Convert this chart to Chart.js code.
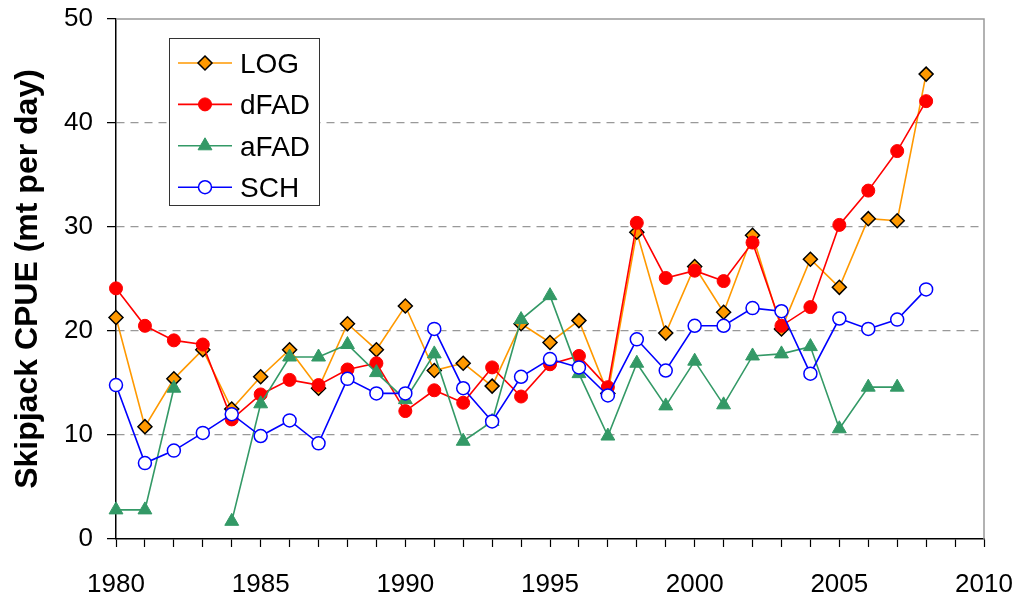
<!DOCTYPE html>
<html>
<head>
<meta charset="utf-8">
<script src="https://cdn.jsdelivr.net/npm/chart.js@4/dist/chart.umd.min.js"></script>
<style>
html,body{margin:0;padding:0;background:#fff;}
#wrap{width:1021px;height:597px;position:relative;}
</style>
</head>
<body>
<div id="wrap"><canvas id="c" width="1021" height="597"></canvas></div>
<script>
const years = [1980,1981,1982,1983,1984,1985,1986,1987,1988,1989,1990,1991,1992,1993,1994,1995,1996,1997,1998,1999,2000,2001,2002,2003,2004,2005,2006,2007,2008,2009,2010];
const seriesNames = ['LOG','dFAD','aFAD','SCH'];
const logValues  = [21.3,10.8,15.4,18.2,12.5,15.6,18.2,14.5,20.7,18.2,22.4,16.2,16.9,14.7,20.7,18.9,21.0,14.0,29.5,19.8,26.2,21.8,29.2,20.2,26.9,24.2,30.8,30.6,44.7];
const dfadValues = [24.1,20.5,19.1,18.7,11.5,13.9,15.3,14.8,16.3,16.9,12.3,14.3,13.1,16.5,13.7,16.8,17.6,14.6,30.4,25.1,25.8,24.8,28.5,20.5,22.3,30.2,33.5,37.3,42.1];
const afadValues = [2.8,2.8,14.5,null,1.7,13.0,17.5,17.5,18.7,16.0,13.4,17.8,9.4,11.3,21.1,23.4,15.9,9.9,16.9,12.8,17.1,12.9,17.6,17.8,18.5,10.6,14.6,14.6,null];
const schValues  = [14.8,7.3,8.5,10.2,12.0,9.9,11.4,9.2,15.4,14.0,14.0,20.2,14.5,11.3,15.6,17.3,16.5,13.8,19.2,16.2,20.5,20.5,22.2,21.9,15.9,21.2,20.2,21.1,24.0];
const yTicks = [0,10,20,30,40,50];

const FONT = "'Liberation Sans', Arial, sans-serif";

const styles = [
  {color:'#FF9900', pointStyle:'rectRot', radius:7, fill:'#FF9900', border:'#000', bw:1.5, order:4},
  {color:'#FF0000', pointStyle:'circle', radius:6.5, fill:'#FF0000', border:'#FF0000', bw:1, order:3},
  {color:'#339966', pointStyle:'triangle', radius:8, fill:'#339966', border:'#339966', bw:1, order:2},
  {color:'#0000FF', pointStyle:'circle', radius:6.5, fill:'#FFFFFF', border:'#0000FF', bw:1.5, order:1}
];
const allValues = [logValues, dfadValues, afadValues, schValues];

const datasets = seriesNames.map((name,i)=>({
  label:name,
  data:allValues[i],
  borderColor:styles[i].color,
  backgroundColor:styles[i].fill,
  borderWidth:1.6,
  pointStyle:styles[i].pointStyle,
  pointRadius:styles[i].radius,
  pointHoverRadius:styles[i].radius,
  pointBackgroundColor:styles[i].fill,
  pointBorderColor:styles[i].border,
  pointBorderWidth:styles[i].bw,
  tension:0,
  spanGaps:false,
  order:styles[i].order
}));

function drawMarker(ctx, st, x, y){
  ctx.save();
  ctx.fillStyle = st.fill;
  ctx.strokeStyle = st.border;
  ctx.lineWidth = st.bw;
  ctx.beginPath();
  const r = st.radius;
  if(st.pointStyle==='rectRot'){
    ctx.moveTo(x, y-r); ctx.lineTo(x+r, y); ctx.lineTo(x, y+r); ctx.lineTo(x-r, y); ctx.closePath();
  } else if(st.pointStyle==='triangle'){
    ctx.moveTo(x, y-r);
    ctx.lineTo(x + r*Math.cos(Math.PI/6), y + r/2);
    ctx.lineTo(x - r*Math.cos(Math.PI/6), y + r/2);
    ctx.closePath();
  } else {
    ctx.arc(x, y, r, 0, Math.PI*2);
  }
  ctx.fill();
  ctx.stroke();
  ctx.restore();
}

const framePlugin = {
  id:'frame',
  beforeDatasetsDraw(chart){
    const {ctx, chartArea:a} = chart;
    ctx.save();
    ctx.strokeStyle = '#999';
    ctx.lineWidth = 1.5;
    ctx.beginPath();
    ctx.moveTo(a.left, a.top); ctx.lineTo(a.right, a.top); ctx.lineTo(a.right, a.bottom);
    ctx.stroke();
    ctx.restore();
  }
};

const legendPlugin = {
  id:'boxLegend',
  afterDraw(chart){
    const ctx = chart.ctx;
    const bx = 169, by = 38, bw = 150, bh = 167;
    ctx.save();
    ctx.fillStyle = '#fff';
    ctx.fillRect(bx, by, bw, bh);
    ctx.strokeStyle = '#333';
    ctx.lineWidth = 1;
    ctx.strokeRect(bx+0.5, by+0.5, bw, bh);
    ctx.font = '28px ' + FONT;
    ctx.textBaseline = 'alphabetic';
    ctx.textAlign = 'left';
    chart.data.datasets.forEach((ds,i)=>{
      const y = 63 + i*41.4;
      ctx.strokeStyle = styles[i].color;
      ctx.lineWidth = 1.6;
      ctx.beginPath(); ctx.moveTo(178, y); ctx.lineTo(232, y); ctx.stroke();
      drawMarker(ctx, styles[i], 205, y);
      ctx.fillStyle = '#000';
      ctx.fillText(ds.label, 240, y + 10);
    });
    ctx.restore();
  }
};

new Chart(document.getElementById('c'), {
  type:'line',
  data:{labels:years, datasets:datasets},
  options:{
    responsive:false,
    animation:false,
    devicePixelRatio:1,
    layout:{padding:{left:0, right:37, top:19, bottom:0}},
    plugins:{legend:{display:false}, tooltip:{enabled:false}},
    scales:{
      x:{
        type:'category',
        offset:false,
        grid:{display:true, drawOnChartArea:false, drawTicks:true, tickLength:8, tickColor:'#000', tickWidth:1.2},
        border:{display:true, color:'#000', width:1.5},
        ticks:{
          autoSkip:false, maxRotation:0, minRotation:0, padding:22,
          color:'#000', font:{family:FONT, size:26},
          callback:function(v,i){ return years[i]%5===0 ? String(years[i]) : ''; }
        },
        afterFit:function(s){ s.height = 58; s.paddingLeft = 0; s.paddingRight = 0; }
      },
      y:{
        min:0, max:50,
        afterBuildTicks:function(s){ s.ticks = yTicks.map(v=>({value:v})); },
        grid:{
          drawOnChartArea:true, drawTicks:true, tickLength:9,
          color:function(c){ return (c.tick && (c.tick.value===0 || c.tick.value===50)) ? 'rgba(0,0,0,0)' : '#999'; },
          lineWidth:1.3,
          tickColor:'#000', tickWidth:1.2, tickBorderDash:[1,0]
        },
        border:{display:true, color:'#000', width:1.5, dash:[8,6]},
        ticks:{padding:14, color:'#000', font:{family:FONT, size:26}},
        title:{display:true, text:'Skipjack CPUE (mt per day)', color:'#000', font:{family:FONT, size:32, weight:'bold'}, padding:{top:9, bottom:0}},
        afterFit:function(s){ s.width = 116; s.paddingTop = 0; s.paddingBottom = 0; }
      }
    }
  },
  plugins:[framePlugin, legendPlugin]
});
</script>
</body>
</html>
